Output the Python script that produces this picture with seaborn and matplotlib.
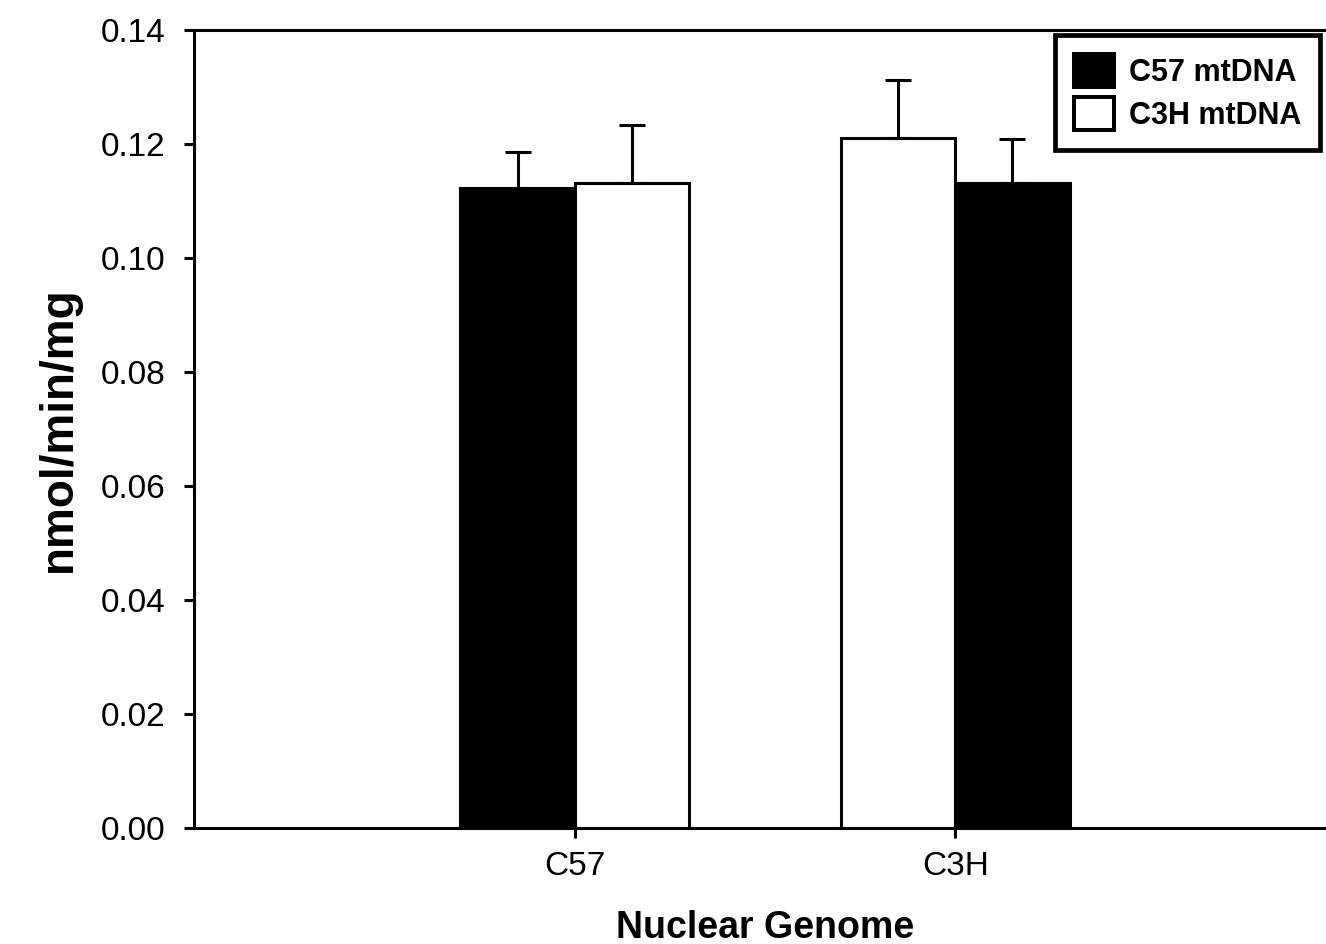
import matplotlib
matplotlib.use("Agg")
import matplotlib.pyplot as plt
import seaborn as sns
import pandas as pd
from matplotlib.patches import Patch

# ---- data ----
nuclear_genome = ["C57", "C57", "C3H", "C3H"]
mt_dna = ["C57 mtDNA", "C3H mtDNA", "C3H mtDNA", "C57 mtDNA"]
values = [0.1122, 0.1132, 0.1211, 0.1132]
errors = [0.0064, 0.0101, 0.0101, 0.0076]
group_order = ["C57", "C3H"]
series_order = ["C57 mtDNA", "C3H mtDNA"]
y_ticks = [0.00, 0.02, 0.04, 0.06, 0.08, 0.10, 0.12, 0.14]

df = pd.DataFrame({"nuclear": nuclear_genome, "mt": mt_dna,
                   "value": values, "err": errors})

sns.set_style("ticks")
plt.rcParams["font.family"] = ["Liberation Sans", "DejaVu Sans"]
plt.rcParams["text.color"] = "black"
plt.rcParams["axes.labelcolor"] = "black"
plt.rcParams["xtick.color"] = "black"
plt.rcParams["ytick.color"] = "black"

palette = {"C57 mtDNA": "black", "C3H mtDNA": "white"}

fig = plt.figure(figsize=(13.26, 9.44), dpi=100)
ax = fig.add_axes([194 / 1326, 1 - 828 / 944, (1336 - 194) / 1326, (828 - 30) / 944])

lw = 2.2
# each nuclear group keeps its own left/right order of mtDNA
for g in group_order:
    sub = df[df["nuclear"] == g]
    sns.barplot(data=sub, x="nuclear", y="value", hue="mt",
                order=group_order, hue_order=list(sub["mt"]),
                palette=palette, width=0.6, dodge=True, errorbar=None,
                edgecolor="black", linewidth=lw, legend=False, ax=ax,
                saturation=1)

# error bars (upper only) placed at bar centers
xs = []
for i, row in df.iterrows():
    gi = group_order.index(row["nuclear"])
    sub = df[df["nuclear"] == row["nuclear"]].reset_index(drop=True)
    k = list(sub["mt"]).index(row["mt"])
    xs.append(gi - 0.15 + 0.3 * k)
ax.errorbar(xs, df["value"], yerr=[[0] * len(df), df["err"]], fmt="none",
            ecolor="black", elinewidth=lw, capsize=9.5, capthick=lw, zorder=1)

ax.set_xlim(-1, 2)
ax.set_ylim(0, 0.14)
ax.set_yticks(y_ticks)
ax.set_yticklabels([f"{v:.2f}" for v in y_ticks])
ax.set_xticks([0, 1])
ax.set_xticklabels(group_order)

for s in ["left", "bottom", "top", "right"]:
    ax.spines[s].set_visible(True)
    ax.spines[s].set_linewidth(lw)
    ax.spines[s].set_color("black")

ax.tick_params(axis="both", direction="out", length=7.5, width=lw,
               labelsize=24, colors="black")
ax.tick_params(axis="y", pad=13)
ax.tick_params(axis="x", pad=9)
ax.tick_params(axis="y", which="both", right=False)
ax.tick_params(axis="x", which="both", top=False)

ax.set_xlabel("Nuclear Genome", fontsize=27, fontweight="bold", labelpad=20)
ax.set_ylabel("nmol/min/mg", fontsize=33, fontweight="bold", labelpad=14)

handles = [Patch(facecolor=palette[s], edgecolor="black", linewidth=lw * 1.3)
           for s in series_order]
leg = fig.legend(handles, series_order, loc="upper left",
                 bbox_to_anchor=(1055 / 1326, 1 - 35 / 944),
                 bbox_transform=fig.transFigure,
                 prop={"size": 22, "weight": "bold"}, frameon=True,
                 fancybox=False, handlelength=1.3, handleheight=1.3,
                 labelspacing=0.3, handletextpad=0.5, borderpad=0.62,
                 borderaxespad=0, edgecolor="black", framealpha=1)
leg.get_frame().set_linewidth(3.4)

fig.savefig("out.png", dpi=100)
